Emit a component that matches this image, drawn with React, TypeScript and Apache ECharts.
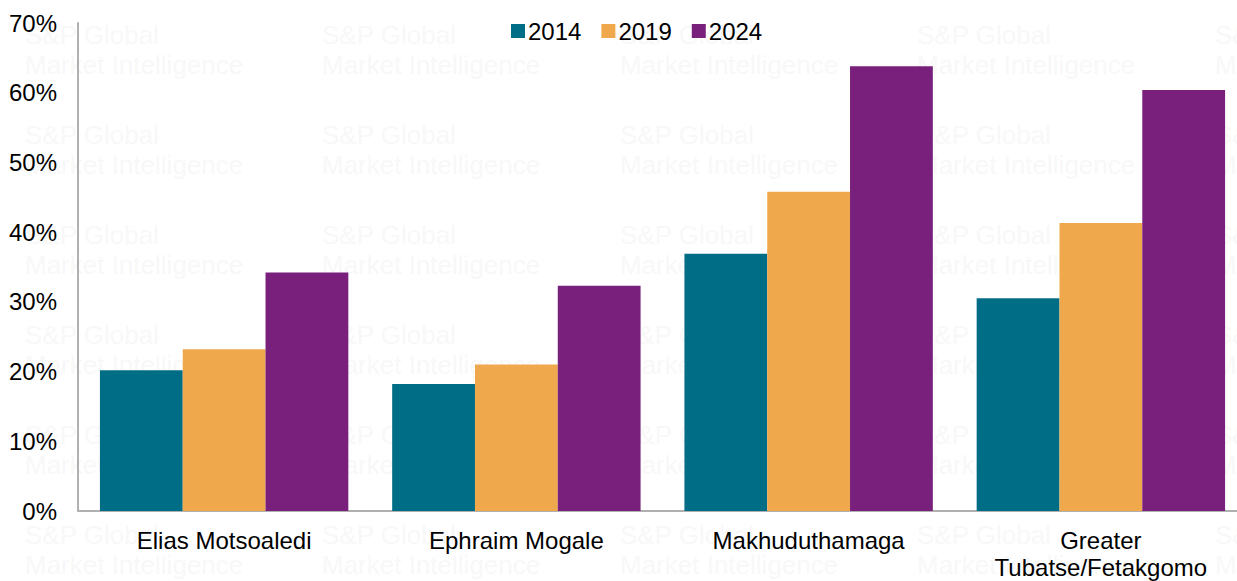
import React, { useEffect, useRef } from "react";
import * as echarts from "echarts";

const categories = ["Elias Motsoaledi", "Ephraim Mogale", "Makhuduthamaga", "Greater\nTubatse/Fetakgomo"];
const seriesNames = ["2014", "2019", "2024"];
const values2014 = [20.2, 18.2, 36.9, 30.5];
const values2019 = [23.2, 21.0, 45.8, 41.3];
const values2024 = [34.2, 32.3, 63.8, 60.4];
const colors = ["#006D87", "#F0A84C", "#78207C"];
const watermarkCols = [25, 322, 620, 917, 1215];
const watermarkRows = [20, 120, 220, 320, 420, 520];

export default function App() {
  const ref = useRef<HTMLDivElement>(null);
  useEffect(() => {
    if (!ref.current) return;
    const chart = echarts.init(ref.current, null, { renderer: "svg" });
    const font = "'Liberation Sans', Arial, sans-serif";
    const watermarks: any[] = [];
    watermarkRows.forEach((y) =>
      watermarkCols.forEach((x) =>
        watermarks.push({
          type: "text",
          x,
          y,
          silent: true,
          z: -10,
          style: {
            text: "S&P Global\nMarket Intelligence",
            fill: "#f8f8f8",
            font: `26px ${font}`,
            lineHeight: 30,
          },
        })
      )
    );
    chart.setOption({
      animation: false,
      textStyle: { fontFamily: font },
      graphic: watermarks,
      legend: {
        top: 14,
        left: 506,
        itemWidth: 14,
        itemHeight: 14,
        itemGap: 20,
        icon: "rect",
        textStyle: { fontSize: 24, color: "#000", fontFamily: font, padding: [0, 0, 0, -2] },
        data: seriesNames,
      },
      grid: { left: 78, top: 23, bottom: 69, right: 0, containLabel: false },
      xAxis: {
        type: "category",
        data: categories,
        axisLine: { lineStyle: { color: "#b0b0b0", width: 2 } },
        axisTick: { show: false },
        axisLabel: { fontSize: 24, color: "#000", margin: 16, lineHeight: 27, fontFamily: font },
      },
      yAxis: {
        type: "value",
        min: 0,
        max: 70,
        interval: 10,
        axisLine: { show: true, lineStyle: { color: "#b0b0b0", width: 2 } },
        axisTick: { show: false },
        splitLine: { show: false },
        axisLabel: { fontSize: 24, color: "#000", margin: 21, formatter: "{value}%", fontFamily: font },
      },
      series: [values2014, values2019, values2024].map((d, i) => ({
        name: seriesNames[i],
        type: "bar",
        data: d,
        barGap: "0%",
        barCategoryGap: "15%",
        itemStyle: { color: colors[i] },
      })),
    });
    return () => chart.dispose();
  }, []);
  return (
    <div style={{ position: "absolute", left: 0, top: 0, width: 1237, height: 581, overflow: "hidden", background: "#fff" }}>
      <div ref={ref} style={{ position: "absolute", left: 0, top: 0, width: 1247, height: 581 }} />
    </div>
  );
}
